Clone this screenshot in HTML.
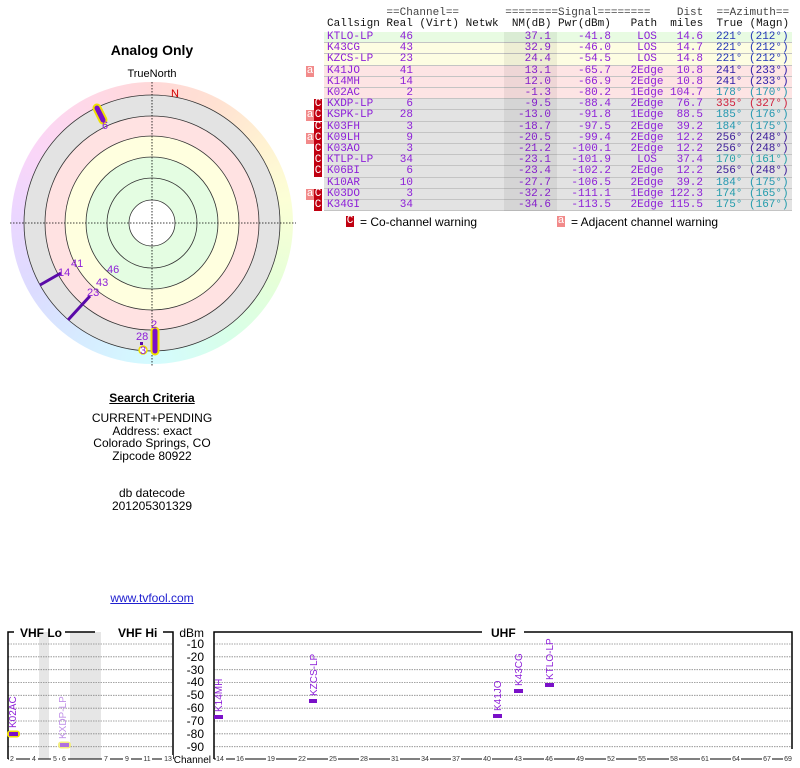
<!DOCTYPE html>
<html><head><meta charset="utf-8"><style>
body{margin:0;background:#fff;width:800px;height:768px;position:relative;overflow:hidden;font-family:"Liberation Sans",sans-serif;}
.a{position:absolute;white-space:pre;}
.mono{font-family:"Liberation Mono",monospace;font-size:11px;line-height:11.2px;}
.row{position:absolute;left:324px;width:468px;height:11.2px;border-bottom:1px solid #c4c4c4;box-sizing:border-box;color:#8d1fd8;}
.row span{position:absolute;top:0;white-space:pre;}
.cs{left:3px}.re{left:50px;width:39px;text-align:right}.nm{left:180px;width:47px;text-align:right}
.pw{left:230px;width:57px;text-align:right}.pa{left:293px;width:60px;text-align:center}
.di{left:330px;width:49px;text-align:right}.tr{left:392px}.mg{left:425px}
.g{background:#e8fbe2}.y{background:#fdfde2}.p{background:#fde4e4}.k{background:#e3e3e3}
.wa,.wc{position:absolute;width:8px;height:11px;color:#fff;font-family:"Liberation Mono",monospace;font-size:11px;line-height:11px;text-align:center}
.wa{background:#f28a8a}.wc{background:#c00010}
</style></head><body>
<div class="a" style="left:0;width:304px;top:42px;text-align:center;font-weight:bold;font-size:14px">Analog Only</div>
<div class="a" style="left:0;width:304px;top:68px;text-align:center;font-size:11px">TrueNorth</div>
<div style="position:absolute;left:11px;top:82px;width:282px;height:282px;border-radius:50%;background:conic-gradient(#ffd8d8 0deg,#ffe2d2 30deg,#fff2d2 55deg,#fcffd6 80deg,#e6ffd8 115deg,#d8ffe8 145deg,#d4fbff 180deg,#d6ecff 210deg,#dcdcff 240deg,#ecd6ff 275deg,#fad6f8 300deg,#ffd8e6 335deg,#ffd8d8 360deg)"></div>
<svg style="position:absolute;left:0;top:0" width="304" height="380">
<circle cx="152" cy="223" r="128" fill="#e3e3e3" stroke="#333" stroke-width="0.8"/>
<circle cx="152" cy="223" r="107" fill="#ffe2e2" stroke="#333" stroke-width="0.8"/>
<circle cx="152" cy="223" r="87" fill="#ffffdf" stroke="#333" stroke-width="0.8"/>
<circle cx="152" cy="223" r="66" fill="#e4fde2" stroke="#333" stroke-width="0.8"/>
<circle cx="152" cy="223" r="45" fill="#e4fde2" stroke="#333" stroke-width="0.8"/>
<circle cx="152" cy="223" r="23" fill="#fff" stroke="#333" stroke-width="0.8"/>
<line x1="10" y1="223" x2="296" y2="223" stroke="#000" stroke-width="0.8" stroke-dasharray="1.5,1.5"/>
<line x1="152" y1="82" x2="152" y2="366" stroke="#000" stroke-width="0.8" stroke-dasharray="1.5,1.5"/>
<text x="171" y="97" font-size="11" fill="#d00000" font-family="Liberation Sans">N</text>
<line x1="97" y1="108" x2="103" y2="120" stroke="#f0e000" stroke-width="9" stroke-linecap="round"/>
<line x1="97" y1="108" x2="103" y2="120" stroke="#7a10c8" stroke-width="5" stroke-linecap="round"/>
<line x1="155" y1="331" x2="155" y2="351" stroke="#f0e000" stroke-width="9" stroke-linecap="round"/>
<line x1="155" y1="331" x2="155" y2="351" stroke="#7a10c8" stroke-width="5" stroke-linecap="round"/>
<line x1="40" y1="285" x2="61" y2="273" stroke="#5a0aa8" stroke-width="3"/>
<line x1="68" y1="320" x2="90" y2="296" stroke="#5a0aa8" stroke-width="3"/>
<circle cx="143" cy="350" r="4" fill="#fff" stroke="#f0e000" stroke-width="1.5"/>
<rect x="140" y="342" width="3" height="3" fill="#5a0aa8"/>
<g font-family="Liberation Sans" font-size="11" fill="#8d1fd8">
<text x="102" y="129">6</text><text x="151" y="328">2</text><text x="136" y="340">28</text><text x="140" y="354">3</text>
<text x="58" y="276">14</text><text x="71" y="267">41</text><text x="87" y="296">23</text><text x="96" y="286">43</text><text x="107" y="273">46</text>
</g>
</svg>
<div class="a" style="left:0;width:304px;top:391px;text-align:center;font-weight:bold;font-size:12px;text-decoration:underline">Search Criteria</div>
<div class="a" style="left:0;width:304px;top:412px;text-align:center;font-size:12px;line-height:12.6px">CURRENT+PENDING
Address: exact
Colorado Springs, CO
Zipcode 80922</div>
<div class="a" style="left:0;width:304px;top:487px;text-align:center;font-size:12px;line-height:12.6px">db datecode
201205301329</div>
<div class="a" style="left:0;width:304px;top:591px;text-align:center;font-size:12px;color:#2020d0;text-decoration:underline">www.tvfool.com</div>

<div class="a mono" style="left:327px;top:8px;color:#444">         ==Channel==       ========Signal========    Dist  ==Azimuth==</div>
<div class="a mono" style="left:327px;top:19px;color:#111">Callsign Real (Virt) Netwk  NM(dB) Pwr(dBm)   Path  miles  True (Magn)</div>

<div class="mono">
<div class="row g" style="top:32px"><span class="cs">KTLO-LP</span><span class="re">46</span><span class="nm">37.1</span><span class="pw">-41.8</span><span class="pa">LOS</span><span class="di">14.6</span><span class="tr" style="color:#2236b8">221°</span><span class="mg" style="color:#2236b8">(212°)</span></div>
<div class="row y" style="top:43.2px"><span class="cs">K43CG</span><span class="re">43</span><span class="nm">32.9</span><span class="pw">-46.0</span><span class="pa">LOS</span><span class="di">14.7</span><span class="tr" style="color:#2236b8">221°</span><span class="mg" style="color:#2236b8">(212°)</span></div>
<div class="row y" style="top:54.4px"><span class="cs">KZCS-LP</span><span class="re">23</span><span class="nm">24.4</span><span class="pw">-54.5</span><span class="pa">LOS</span><span class="di">14.8</span><span class="tr" style="color:#2236b8">221°</span><span class="mg" style="color:#2236b8">(212°)</span></div>
<div class="row p" style="top:65.6px"><span class="cs">K41JO</span><span class="re">41</span><span class="nm">13.1</span><span class="pw">-65.7</span><span class="pa">2Edge</span><span class="di">10.8</span><span class="tr" style="color:#2a1aa8">241°</span><span class="mg" style="color:#2a1aa8">(233°)</span></div>
<div class="row p" style="top:76.8px"><span class="cs">K14MH</span><span class="re">14</span><span class="nm">12.0</span><span class="pw">-66.9</span><span class="pa">2Edge</span><span class="di">10.8</span><span class="tr" style="color:#2a1aa8">241°</span><span class="mg" style="color:#2a1aa8">(233°)</span></div>
<div class="row p" style="top:88px"><span class="cs">K02AC</span><span class="re">2</span><span class="nm">-1.3</span><span class="pw">-80.2</span><span class="pa">1Edge</span><span class="di">104.7</span><span class="tr" style="color:#2398b0">178°</span><span class="mg" style="color:#2398b0">(170°)</span></div>
<div class="row k" style="top:99.2px"><span class="cs">KXDP-LP</span><span class="re">6</span><span class="nm">-9.5</span><span class="pw">-88.4</span><span class="pa">2Edge</span><span class="di">76.7</span><span class="tr" style="color:#d0203c">335°</span><span class="mg" style="color:#d0203c">(327°)</span></div>
<div class="row k" style="top:110.4px"><span class="cs">KSPK-LP</span><span class="re">28</span><span class="nm">-13.0</span><span class="pw">-91.8</span><span class="pa">1Edge</span><span class="di">88.5</span><span class="tr" style="color:#2398b0">185°</span><span class="mg" style="color:#2398b0">(176°)</span></div>
<div class="row k" style="top:121.6px"><span class="cs">K03FH</span><span class="re">3</span><span class="nm">-18.7</span><span class="pw">-97.5</span><span class="pa">2Edge</span><span class="di">39.2</span><span class="tr" style="color:#2398b0">184°</span><span class="mg" style="color:#2398b0">(175°)</span></div>
<div class="row k" style="top:132.8px"><span class="cs">K09LH</span><span class="re">9</span><span class="nm">-20.5</span><span class="pw">-99.4</span><span class="pa">2Edge</span><span class="di">12.2</span><span class="tr" style="color:#3a1a98">256°</span><span class="mg" style="color:#3a1a98">(248°)</span></div>
<div class="row k" style="top:144px"><span class="cs">K03AO</span><span class="re">3</span><span class="nm">-21.2</span><span class="pw">-100.1</span><span class="pa">2Edge</span><span class="di">12.2</span><span class="tr" style="color:#3a1a98">256°</span><span class="mg" style="color:#3a1a98">(248°)</span></div>
<div class="row k" style="top:155.2px"><span class="cs">KTLP-LP</span><span class="re">34</span><span class="nm">-23.1</span><span class="pw">-101.9</span><span class="pa">LOS</span><span class="di">37.4</span><span class="tr" style="color:#23a0a8">170°</span><span class="mg" style="color:#23a0a8">(161°)</span></div>
<div class="row k" style="top:166.4px"><span class="cs">K06BI</span><span class="re">6</span><span class="nm">-23.4</span><span class="pw">-102.2</span><span class="pa">2Edge</span><span class="di">12.2</span><span class="tr" style="color:#3a1a98">256°</span><span class="mg" style="color:#3a1a98">(248°)</span></div>
<div class="row k" style="top:177.6px"><span class="cs">K10AR</span><span class="re">10</span><span class="nm">-27.7</span><span class="pw">-106.5</span><span class="pa">2Edge</span><span class="di">39.2</span><span class="tr" style="color:#2398b0">184°</span><span class="mg" style="color:#2398b0">(175°)</span></div>
<div class="row k" style="top:188.8px"><span class="cs">K03DO</span><span class="re">3</span><span class="nm">-32.2</span><span class="pw">-111.1</span><span class="pa">1Edge</span><span class="di">122.3</span><span class="tr" style="color:#239cac">174°</span><span class="mg" style="color:#239cac">(165°)</span></div>
<div class="row k" style="top:200px"><span class="cs">K34GI</span><span class="re">34</span><span class="nm">-34.6</span><span class="pw">-113.5</span><span class="pa">2Edge</span><span class="di">115.5</span><span class="tr" style="color:#239cac">175°</span><span class="mg" style="color:#239cac">(167°)</span></div>
</div>
<div style="position:absolute;left:504px;top:32px;width:53px;height:179px;background:rgba(0,0,0,0.06)"></div>

<div class="wa" style="left:306px;top:66px">a</div>
<div class="wc" style="left:314px;top:99px">C</div>
<div class="wa" style="left:306px;top:110px">a</div><div class="wc" style="left:314px;top:110px">C</div>
<div class="wc" style="left:314px;top:122px">C</div>
<div class="wa" style="left:306px;top:133px">a</div><div class="wc" style="left:314px;top:133px">C</div>
<div class="wc" style="left:314px;top:144px">C</div>
<div class="wc" style="left:314px;top:155px">C</div>
<div class="wc" style="left:314px;top:166px">C</div>
<div class="wa" style="left:306px;top:189px">a</div><div class="wc" style="left:314px;top:189px">C</div>
<div class="wc" style="left:314px;top:200px">C</div>
<div class="wc" style="left:346px;top:216px">C</div>
<div class="a" style="left:360px;top:215px;font-size:12px">= Co-channel warning</div>
<div class="wa" style="left:557px;top:216px">a</div>
<div class="a" style="left:571px;top:215px;font-size:12px">= Adjacent channel warning</div>

<svg style="position:absolute;left:0;top:620px" width="800" height="148">
<rect x="39" y="12" width="10" height="127" fill="#e6e6e6"/>
<rect x="70" y="12" width="31" height="127" fill="#e6e6e6"/>
<g stroke="#888" stroke-width="0.8" stroke-dasharray="1.5,1">
<line x1="8" y1="24" x2="173" y2="24"/><line x1="8" y1="36.8" x2="173" y2="36.8"/><line x1="8" y1="49.7" x2="173" y2="49.7"/><line x1="8" y1="62.5" x2="173" y2="62.5"/><line x1="8" y1="75.3" x2="173" y2="75.3"/><line x1="8" y1="88.2" x2="173" y2="88.2"/><line x1="8" y1="101" x2="173" y2="101"/><line x1="8" y1="113.8" x2="173" y2="113.8"/><line x1="8" y1="126.7" x2="173" y2="126.7"/>
<line x1="214" y1="24" x2="792" y2="24"/><line x1="214" y1="36.8" x2="792" y2="36.8"/><line x1="214" y1="49.7" x2="792" y2="49.7"/><line x1="214" y1="62.5" x2="792" y2="62.5"/><line x1="214" y1="75.3" x2="792" y2="75.3"/><line x1="214" y1="88.2" x2="792" y2="88.2"/><line x1="214" y1="101" x2="792" y2="101"/><line x1="214" y1="113.8" x2="792" y2="113.8"/><line x1="214" y1="126.7" x2="792" y2="126.7"/>
</g>
<g stroke="#000" stroke-width="1.5" fill="none">
<path d="M8 139 V12 H14 M65 12 H95 M163 12 H173 V139"/>
<path d="M214 139 V12 H482 M524 12 H792 V129"/>
<line x1="8" y1="139" x2="173" y2="139" stroke-width="1"/>
<line x1="214" y1="139" x2="792" y2="139" stroke-width="1"/>
</g>
<g font-family="Liberation Sans" font-weight="bold" font-size="12" fill="#000">
<text x="20" y="17">VHF Lo</text><text x="118" y="17">VHF Hi</text><text x="491" y="17">UHF</text>
</g>
<g font-family="Liberation Sans" font-size="12" fill="#000" text-anchor="end">
<text x="204" y="17">dBm</text><text x="204" y="28">-10</text><text x="204" y="41">-20</text><text x="204" y="54">-30</text><text x="204" y="66">-40</text><text x="204" y="79">-50</text><text x="204" y="92">-60</text><text x="204" y="105">-70</text><text x="204" y="118">-80</text><text x="204" y="131">-90</text>
<text x="211" y="143" font-size="10">Channel</text>
</g>
<g font-family="Liberation Sans" font-size="7" fill="#333" text-anchor="middle">
<g fill="#fff" stroke="none">
<rect x="9" y="135" width="7" height="8"/><rect x="30" y="135" width="8" height="8"/><rect x="51" y="135" width="8" height="8"/><rect x="60" y="135" width="8" height="8"/><rect x="102" y="135" width="8" height="8"/><rect x="123" y="135" width="8" height="8"/><rect x="142" y="135" width="10" height="8"/><rect x="162" y="135" width="11" height="8"/>
</g>
<text x="12" y="141">2</text><text x="34" y="141">4</text><text x="55" y="141">5</text><text x="64" y="141">6</text><text x="106" y="141">7</text><text x="127" y="141">9</text><text x="147" y="141">11</text><text x="168" y="141">13</text>
<g fill="#fff" stroke="none">
<rect x="216" y="135" width="10" height="8"/><rect x="235" y="135" width="10" height="8"/><rect x="266" y="135" width="10" height="8"/><rect x="297" y="135" width="10" height="8"/><rect x="328" y="135" width="10" height="8"/><rect x="359" y="135" width="10" height="8"/><rect x="390" y="135" width="10" height="8"/><rect x="420" y="135" width="10" height="8"/><rect x="451" y="135" width="10" height="8"/><rect x="482" y="135" width="10" height="8"/><rect x="513" y="135" width="10" height="8"/><rect x="544" y="135" width="10" height="8"/><rect x="575" y="135" width="10" height="8"/><rect x="606" y="135" width="10" height="8"/><rect x="637" y="135" width="10" height="8"/><rect x="669" y="135" width="10" height="8"/><rect x="700" y="135" width="10" height="8"/><rect x="731" y="135" width="10" height="8"/><rect x="762" y="135" width="10" height="8"/><rect x="783" y="135" width="10" height="8"/>
</g>
<text x="220" y="141">14</text><text x="240" y="141">16</text><text x="271" y="141">19</text><text x="302" y="141">22</text><text x="333" y="141">25</text><text x="364" y="141">28</text><text x="395" y="141">31</text><text x="425" y="141">34</text><text x="456" y="141">37</text><text x="487" y="141">40</text><text x="518" y="141">43</text><text x="549" y="141">46</text><text x="580" y="141">49</text><text x="611" y="141">52</text><text x="642" y="141">55</text><text x="674" y="141">58</text><text x="705" y="141">61</text><text x="736" y="141">64</text><text x="767" y="141">67</text><text x="788" y="141">69</text>
</g>
<rect x="7" y="110.5" width="13" height="7" rx="3" fill="#f0e000"/>
<rect x="9" y="112" width="9" height="4" fill="#7a10c8"/>
<rect x="58" y="121.5" width="13" height="7" rx="3" fill="#f4ee80"/>
<rect x="60" y="123" width="9" height="4" fill="#b070e0"/>
<rect x="214" y="95" width="9" height="4" fill="#7a10c8"/>
<rect x="309" y="79" width="8" height="4" fill="#7a10c8"/>
<rect x="493" y="94" width="9" height="4" fill="#7a10c8"/>
<rect x="514" y="69" width="9" height="4" fill="#7a10c8"/>
<rect x="545" y="63" width="9" height="4" fill="#7a10c8"/>
<g font-family="Liberation Sans" font-size="10" fill="#8d1fd8">
<text transform="translate(16,108) rotate(-90)">K02AC</text>
<text transform="translate(66,119) rotate(-90)" fill="#c090e8">KXDP-LP</text>
<text transform="translate(222,92) rotate(-90)">K14MH</text>
<text transform="translate(317,76) rotate(-90)">KZCS-LP</text>
<text transform="translate(501,91) rotate(-90)">K41JO</text>
<text transform="translate(522,66) rotate(-90)">K43CG</text>
<text transform="translate(553,60) rotate(-90)">KTLO-LP</text>
</g>
</svg>
</body></html>
